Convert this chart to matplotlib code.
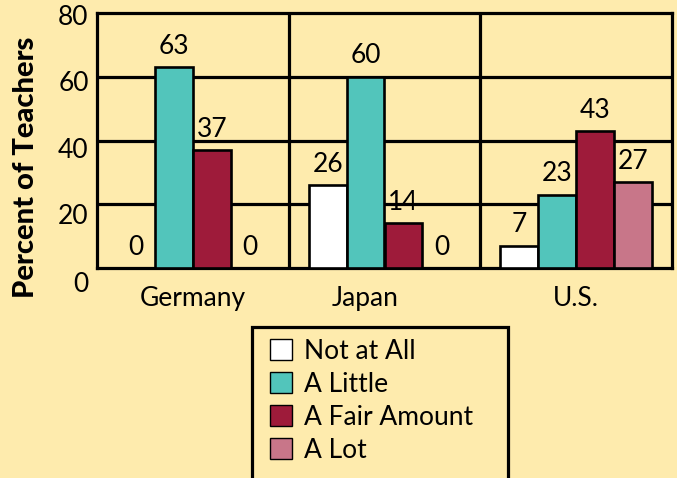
import numpy as np
import matplotlib.pyplot as plt
from matplotlib.patches import Rectangle

plt.rcParams['font.family'] = ['Lato', 'DejaVu Sans']

countries = ['Germany', 'Japan', 'U.S.']
levels = ['Not at All', 'A Little', 'A Fair Amount', 'A Lot']
not_at_all = [0, 26, 7]
a_little = [63, 60, 23]
fair_amount = [37, 14, 43]
a_lot = [0, 0, 27]
yticks = [0, 20, 40, 60, 80]

colors = ['#ffffff', '#52c5bb', '#9e1b3a', '#c87689']
bg = '#feebad'

W, H = 677, 478
fig = plt.figure(figsize=(W / 100, H / 100), dpi=100, facecolor=bg)
ax = fig.add_axes([97 / W, 1 - 268 / H, 575 / W, 255 / H], facecolor=bg)

x = np.arange(len(countries))
w = 0.198
series = [not_at_all, a_little, fair_amount, a_lot]
fs = 19

for i, (vals, c, lab) in enumerate(zip(series, colors, levels)):
    pos = x + (i - 1.5) * w
    ax.bar(pos, vals, w, color=c, edgecolor='black', linewidth=1.9, zorder=3, label=lab)
    for px, v in zip(pos, vals):
        ax.annotate(str(v), (px, v), xytext=(0, 6), textcoords='offset points',
                    ha='center', va='bottom', fontsize=fs, zorder=4)

# grid
for v in yticks[1:-1]:
    ax.axhline(v, color='black', lw=2.3, zorder=1)
for b in [0.5, 1.5]:
    ax.axvline(b, color='black', lw=2.3, zorder=1)

ax.set_xlim(-0.5, 2.5)
ax.set_ylim(0, 80)
for s in ax.spines.values():
    s.set_linewidth(2.3)
ax.tick_params(length=0)
ax.set_yticks(yticks, [''] * len(yticks))
ax.set_xticks([0, 0.9, 2], countries, fontsize=fs)
ax.tick_params(axis='x', pad=13)

# y tick labels sit a bit lower than their gridlines
for k, v in enumerate(yticks):
    off = [12, 9, 7, 5, 3][k]
    ax.annotate(str(v), (0, v), xycoords=('axes fraction', 'data'),
                xytext=(-6, -off), textcoords='offset points',
                ha='right', va='center', fontsize=fs)

fig.text(26 / W, 1 - 167 / H, 'Percent of Teachers', rotation=90,
         ha='center', va='center', fontsize=21, fontweight='black')

# legend box runs off the bottom of the picture
fig.patches.append(Rectangle((252 / W, -0.05), 256 / W, (1 - 327 / H) + 0.05,
                             transform=fig.transFigure, facecolor='none',
                             edgecolor='black', lw=2.3))
handles, labels = ax.get_legend_handles_labels()
leg = fig.legend(handles, labels, loc='upper left', bbox_to_anchor=(270 / W, 1 - 339 / H),
                 frameon=False, fontsize=fs, handlelength=0.85, handleheight=0.85,
                 handletextpad=0.45, labelspacing=0.3, borderpad=0, borderaxespad=0)
for h in leg.legend_handles:
    h.set_linewidth(1)

fig.savefig('out.png', dpi=100, facecolor=bg)
